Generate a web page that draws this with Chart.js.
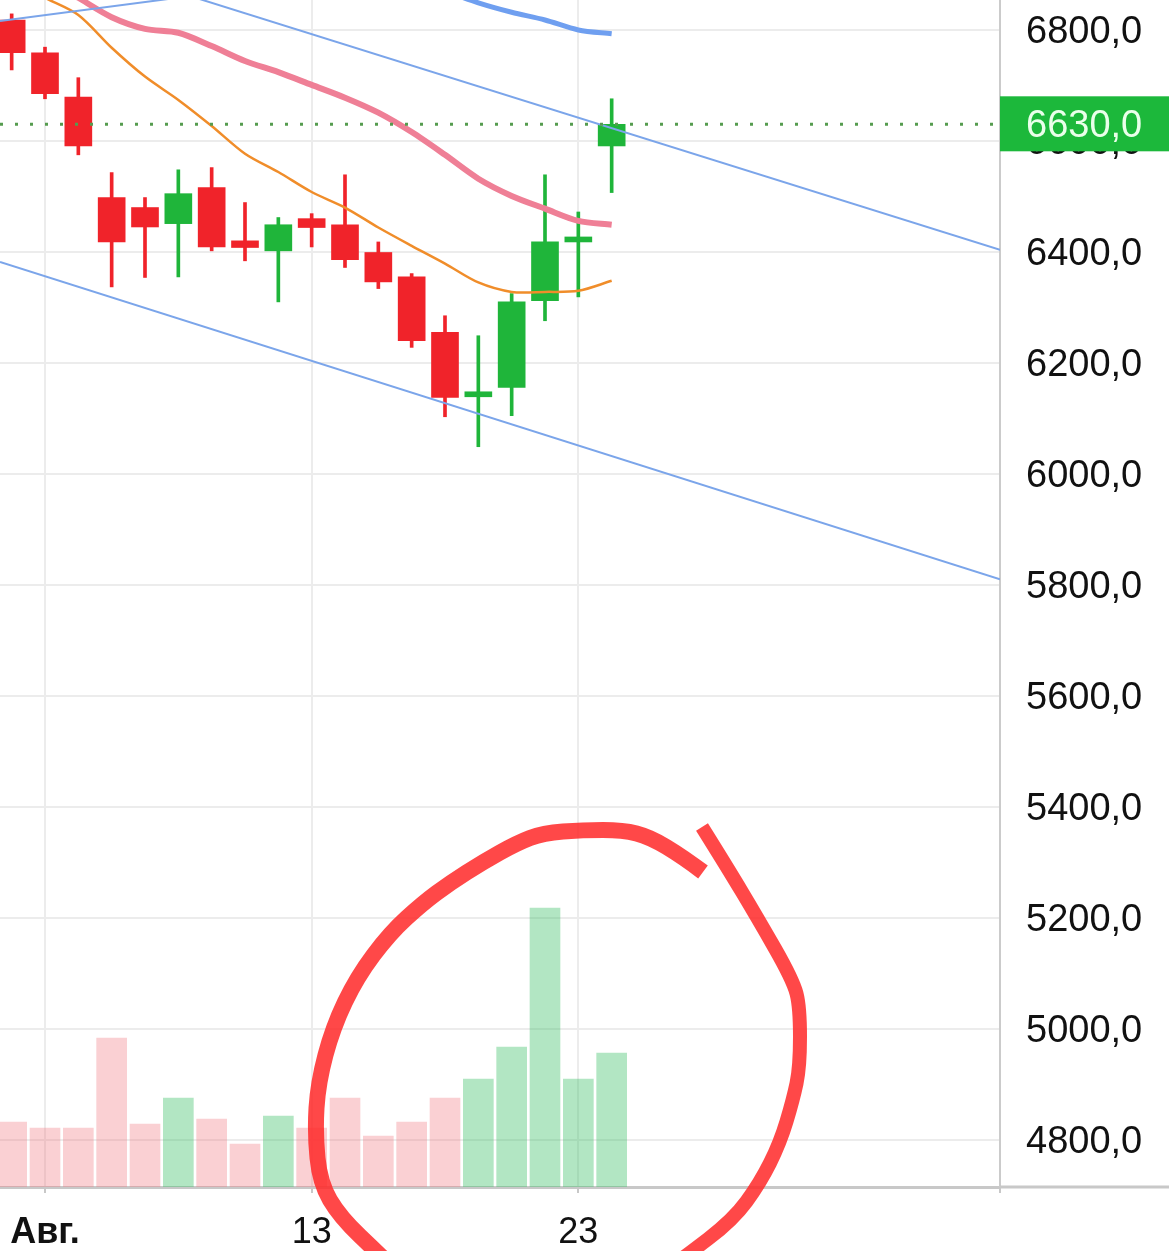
<!DOCTYPE html>
<html>
<head>
<meta charset="utf-8">
<script src="https://cdn.jsdelivr.net/npm/chart.js@4.4.1/dist/chart.umd.min.js"></script>
<style>
  html, body { margin: 0; padding: 0; background: #fff; }
  canvas { display: block; }
</style>
</head>
<body>
<canvas id="chart" width="1169" height="1251"></canvas>
<script>
// trading days, 0 = 1 Aug
var days    = [-1, 0, 1, 2, 3, 4, 5, 6, 7, 8, 9, 10, 11, 12, 13, 14, 15, 16, 17];
var opens   = [6818, 6759, 6679, 6498, 6480, 6451, 6516, 6420, 6402, 6460, 6449, 6399, 6355, 6255, 6139, 6156, 6312, 6418, 6591];
var highs   = [6829, 6769, 6714, 6543, 6498, 6548, 6552, 6489, 6462, 6469, 6539, 6418, 6361, 6285, 6249, 6325, 6539, 6472, 6676];
var lows    = [6728, 6676, 6575, 6337, 6354, 6355, 6402, 6384, 6310, 6409, 6372, 6334, 6228, 6103, 6049, 6105, 6276, 6319, 6507];
var closes  = [6759, 6685, 6591, 6418, 6445, 6505, 6409, 6408, 6449, 6444, 6386, 6346, 6240, 6138, 6148, 6310, 6418, 6427, 6630];
var volumes = [65, 59, 59, 149, 63, 89, 68, 43, 71, 59, 89, 51, 65, 89, 108, 140, 279, 108, 134];

// moving averages
var maFast = [6890, 6858, 6827, 6768, 6716, 6674, 6627, 6577, 6544, 6508, 6480, 6444, 6411, 6379, 6345, 6328, 6328, 6330, 6348];
var maSlow = [6935, 6894, 6858, 6823, 6802, 6795, 6771, 6744, 6724, 6701, 6678, 6651, 6616, 6575, 6532, 6501, 6478, 6456, 6449];
var maLong = [null, null, null, null, null, null, null, null, null, null, null, null, null, 6870, 6849, 6832, 6818, 6800, 6793];

// trend channel lines (day, price)
var channelTop   = [[-1.35, 6816], [6, 6874]];
var channelMid   = [[0, 6943], [28.65, 6404]];
var channelLow   = [[-1.35, 6382], [28.65, 5810]];

var lastPrice = 6630;

var xTickIdx    = [0, 8, 16];
var xTickLabels = ['Авг.', '13', '23'];
var yTickVals   = [4800, 5000, 5200, 5400, 5600, 5800, 6000, 6200, 6400, 6600, 6800];

var xMin = -1.35, xMax = 28.65;
var yMin = 4715, yMax = 6854;

var RED = '#f0232a', GREEN = '#1fb53a';

function fmt(v) {
    return v.toFixed(1).replace('.', ',');
}

var candleColors = days.map(function(d, i) {
    return closes[i] >= opens[i] ? GREEN : RED;
});
var volColors = days.map(function(d, i) {
    return closes[i] >= opens[i] ? 'rgba(62,192,105,0.4)' : 'rgba(242,120,128,0.35)';
});

function pts(values) {
    var out = [];
    days.forEach(function(d, i) {
        if (values[i] !== null) out.push({x: d, y: values[i]});
    });
    return out;
}
function seg(pairs) {
    return pairs.map(function(p) { return {x: p[0], y: p[1]}; });
}

function smoothPath(ctx, p) {
    ctx.moveTo(p[0][0], p[0][1]);
    for (var i = 1; i < p.length - 1; i++) {
        var mx = (p[i][0] + p[i + 1][0]) / 2, my = (p[i][1] + p[i + 1][1]) / 2;
        ctx.quadraticCurveTo(p[i][0], p[i][1], mx, my);
    }
    ctx.lineTo(p[p.length - 1][0], p[p.length - 1][1]);
}

// price tag on the right axis, axis extensions and the hand drawn circle
var extras = {
    id: 'extras',
    afterDraw: function(chart) {
        var ctx = chart.ctx, area = chart.chartArea;
        var y = chart.scales.y.getPixelForValue(lastPrice);
        ctx.save();

        ctx.strokeStyle = '#c8c8c8';
        ctx.lineWidth = 3;
        ctx.beginPath();
        ctx.moveTo(area.right, area.bottom);
        ctx.lineTo(chart.width, area.bottom);
        ctx.stroke();
        ctx.lineWidth = 2;
        ctx.beginPath();
        ctx.moveTo(area.right, area.bottom);
        ctx.lineTo(area.right, area.bottom + 6);
        ctx.stroke();

        ctx.fillStyle = '#1cb83b';
        ctx.fillRect(area.right, y - 28, chart.width - area.right, 55);
        ctx.fillStyle = '#eaffea';
        ctx.font = '38px "Liberation Sans", Arial, sans-serif';
        ctx.textBaseline = 'middle';
        ctx.textAlign = 'left';
        ctx.fillText(fmt(lastPrice), area.right + 26, y + 2);

        ctx.strokeStyle = 'rgba(255,40,40,0.85)';
        ctx.lineWidth = 16;
        ctx.lineCap = 'butt';
        ctx.lineJoin = 'round';
        ctx.beginPath();
        smoothPath(ctx, [[703,872],[683,857],[650,837],[623,830],[583,830],[543,833],[517,843],[483,862],[450,883],[423,903],[390,933],[357,977],[333,1027],[318,1083],[315,1133],[320,1183],[340,1217],[380,1255],[400,1275]]);
        ctx.stroke();
        ctx.lineWidth = 14;
        ctx.beginPath();
        smoothPath(ctx, [[702,827],[727,867],[757,917],[793,980],[800,1007],[800,1067],[793,1100],[780,1143],[760,1183],[733,1220],[683,1258],[660,1275]]);
        ctx.stroke();
        ctx.restore();
    }
};

var ctx = document.getElementById('chart').getContext('2d');
var myChart = new Chart(ctx, {
    type: 'bar',
    data: {
        datasets: [
        {
            type: 'line',
            data: [{x: xMin, y: lastPrice}, {x: xMax, y: lastPrice}],
            borderColor: '#559c4f',
            borderWidth: 3,
            borderDash: [3, 12],
            pointRadius: 0,
            order: 1
        },
        {
            type: 'line',
            data: pts(maFast),
            borderColor: '#f08d2a',
            borderWidth: 2.5,
            tension: 0.3,
            pointRadius: 0,
            order: 3
        },
        {
            type: 'line',
            data: pts(maSlow),
            borderColor: '#ef7f96',
            borderWidth: 6,
            tension: 0.3,
            pointRadius: 0,
            order: 3
        },
        {
            type: 'line',
            data: pts(maLong),
            borderColor: '#6f9ff0',
            borderWidth: 5,
            tension: 0.3,
            pointRadius: 0,
            order: 3
        },
        {
            type: 'line',
            data: seg(channelTop),
            borderColor: '#7ba5ea',
            borderWidth: 2,
            pointRadius: 0,
            order: 2
        },
        {
            type: 'line',
            data: seg(channelMid),
            borderColor: '#7ba5ea',
            borderWidth: 2,
            pointRadius: 0,
            order: 2
        },
        {
            type: 'line',
            data: seg(channelLow),
            borderColor: '#7ba5ea',
            borderWidth: 2,
            pointRadius: 0,
            order: 2
        },
        {
            // candle bodies
            data: days.map(function(d, i) { return {x: d, y: [opens[i], closes[i]]}; }),
            backgroundColor: candleColors,
            barThickness: 27,
            grouped: false,
            order: 5
        },
        {
            // wicks
            data: days.map(function(d, i) { return {x: d, y: [lows[i], highs[i]]}; }),
            backgroundColor: candleColors,
            barThickness: 3,
            grouped: false,
            order: 6
        },
        {
            // volume
            data: days.map(function(d, i) { return {x: d, y: volumes[i]}; }),
            backgroundColor: volColors,
            barThickness: 30,
            grouped: false,
            yAxisID: 'vol',
            order: 9
        }]
    },
    options: {
        responsive: false,
        animation: false,
        layout: { padding: 0 },
        plugins: {
            legend: { display: false },
            tooltip: { enabled: false }
        },
        scales: {
            x: {
                type: 'linear',
                min: xMin,
                max: xMax,
                offset: false,
                afterBuildTicks: function(axis) {
                    axis.ticks = xTickIdx.map(function(v) { return {value: v}; });
                },
                afterFit: function(axis) {
                    axis.height = 64;
                    axis.paddingLeft = 0;
                    axis.paddingRight = 0;
                },
                ticks: {
                    autoSkip: false,
                    maxRotation: 0,
                    padding: 18,
                    color: '#111',
                    font: function(c) {
                        return {
                            family: '"Liberation Sans", Arial, sans-serif',
                            size: 36,
                            weight: (c.tick && c.tick.value === 0) ? 'bold' : 'normal'
                        };
                    },
                    callback: function(v) {
                        return xTickLabels[xTickIdx.indexOf(v)];
                    }
                },
                grid: {
                    offset: false,
                    color: '#ececec',
                    lineWidth: 2,
                    tickColor: '#c8c8c8',
                    tickLength: 6
                },
                border: { color: '#c8c8c8', width: 3 }
            },
            y: {
                position: 'right',
                min: yMin,
                max: yMax,
                afterBuildTicks: function(axis) {
                    axis.ticks = yTickVals.map(function(v) { return {value: v}; });
                },
                afterFit: function(axis) {
                    axis.width = 169;
                    axis.paddingTop = 0;
                    axis.paddingBottom = 0;
                },
                ticks: {
                    padding: 26,
                    labelOffset: 3,
                    color: '#111',
                    font: { family: '"Liberation Sans", Arial, sans-serif', size: 38 },
                    callback: function(v) { return fmt(v); }
                },
                grid: {
                    color: '#ececec',
                    lineWidth: 2,
                    drawTicks: false
                },
                border: { color: '#cbcbcb', width: 2 }
            },
            vol: {
                display: false,
                min: 0,
                max: 1187
            }
        }
    },
    plugins: [extras]
});
</script>
</body>
</html>
